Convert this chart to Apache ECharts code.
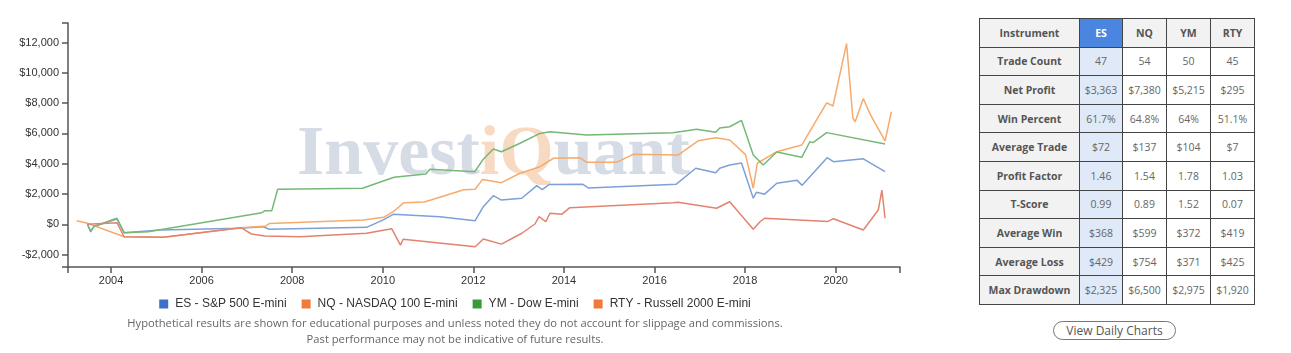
<!DOCTYPE html>
<html>
<head>
<meta charset="utf-8">
<script src="https://cdn.jsdelivr.net/npm/echarts@6/dist/echarts.min.js"></script>
<style>
  html, body { margin: 0; padding: 0; background: #fff; }
  #wrap { position: relative; width: 1291px; height: 353px; overflow: hidden; }
  #chart { position: absolute; left: 0; top: 0; width: 910px; height: 353px; }
  #tbl { position: absolute; left: 979px; top: 18px; border-collapse: collapse; font-family: "Open Sans", sans-serif; font-size: 10.5px; color: #666; border: 1px solid #aaa; }
  #tbl td { border: 1.3px solid #444; height: 27.6px; padding: 0; text-align: center; white-space: nowrap; }
  #tbl td.lab { background: #f2f2f2; font-weight: bold; color: #555; width: 99px; }
  #tbl tr.hdr td { background: #f2f2f2; font-weight: bold; color: #555; }
  #tbl td.es { background: #dfe9f8; width: 42px; }
  #tbl tr.hdr td.es { background: #4a86df; color: #fff; }
  #tbl td.c { width: 43px; }
  #btn { position: absolute; left: 1053px; top: 321px; width: 121px; height: 17px; border: 1.5px solid #777; border-radius: 10px; font-family: "Open Sans", sans-serif; font-size: 12px; color: #555; text-align: center; line-height: 17px; }
</style>
</head>
<body>
<div id="wrap">
  <div id="chart"></div>
  <table id="tbl"></table>
  <div id="btn">View Daily Charts</div>
</div>
<script>
// ---- data ----
const seriesNames = ['ES - S&P 500 E-mini', 'NQ - NASDAQ 100 E-mini', 'YM - Dow E-mini', 'RTY - Russell 2000 E-mini'];
const yTicks = [-2000, 0, 2000, 4000, 6000, 8000, 10000, 12000];
const xTicks = [2004, 2006, 2008, 2010, 2012, 2014, 2016, 2018, 2020];

const esData = [[2003.48,0],[2003.55,-500],[2003.62,-150],[2004.13,350],[2004.29,-550],[2005.08,-380],[2006.85,-260],[2007.36,-160],[2007.5,-330],[2009.64,-200],[2010.0,280],[2010.23,660],[2011.26,500],[2012.04,240],[2012.22,1160],[2012.44,1890],[2012.62,1600],[2013.07,1720],[2013.4,2550],[2013.52,2290],[2013.67,2620],[2014.41,2650],[2014.54,2400],[2016.48,2650],[2016.91,3700],[2017.35,3400],[2017.44,3700],[2017.66,3910],[2017.92,4050],[2018.18,1720],[2018.25,2110],[2018.43,1990],[2018.7,2710],[2019.15,2900],[2019.26,2570],[2019.81,4400],[2019.95,4130],[2020.61,4320],[2021.09,3470]];
const nqData = [[2003.24,240],[2003.48,70],[2004.29,-820],[2005.17,-860],[2006.87,-230],[2007.42,-110],[2007.5,60],[2009.57,280],[2010.02,460],[2010.23,830],[2010.47,1430],[2010.92,1470],[2011.79,2280],[2012.04,2310],[2012.2,2950],[2012.62,2750],[2013.03,3370],[2013.47,3800],[2013.77,4360],[2014.35,4400],[2014.5,4090],[2015.16,4090],[2015.53,4620],[2016.52,4570],[2016.97,5520],[2017.35,5720],[2017.66,5560],[2018.01,4600],[2018.18,2380],[2018.27,4030],[2018.7,4790],[2019.25,5230],[2019.8,8010],[2019.94,7810],[2020.24,11930],[2020.38,7000],[2020.43,6770],[2020.61,8300],[2020.76,7270],[2021.09,5500],[2021.23,7430]];
const ymData = [[2003.48,0],[2003.55,-450],[2003.62,-150],[2004.13,400],[2004.29,-550],[2004.82,-490],[2007.33,770],[2007.4,900],[2007.55,900],[2007.68,2310],[2009.55,2380],[2010.25,3100],[2010.95,3320],[2011.04,3630],[2012.03,3470],[2012.22,4300],[2012.44,4970],[2012.62,4790],[2013.03,5350],[2013.47,6000],[2013.69,6110],[2014.5,5890],[2016.41,6050],[2016.93,6270],[2017.35,6080],[2017.44,6360],[2017.66,6440],[2017.92,6860],[2018.18,4570],[2018.4,3910],[2018.7,4770],[2019.25,4420],[2019.43,5450],[2019.5,5390],[2019.8,6050],[2021.09,5300]];
const rtyData = [[2003.48,0],[2004.13,110],[2004.29,-820],[2005.15,-860],[2006.87,-220],[2007.1,-640],[2007.4,-770],[2008.17,-820],[2009.64,-590],[2010.2,-300],[2010.39,-1370],[2010.45,-990],[2012.04,-1480],[2012.22,-970],[2012.62,-1310],[2013.07,-590],[2013.36,20],[2013.45,500],[2013.6,170],[2013.69,730],[2013.95,660],[2014.13,1100],[2016.41,1430],[2016.52,1450],[2017.37,1060],[2017.66,1490],[2018.18,-320],[2018.33,170],[2018.43,400],[2019.83,190],[2019.95,370],[2020.61,-380],[2020.94,940],[2021.02,2260],[2021.09,400]];

const tableHeader = ['Instrument', 'ES', 'NQ', 'YM', 'RTY'];
const tableRows = [
  ['Trade Count', '47', '54', '50', '45'],
  ['Net Profit', '$3,363', '$7,380', '$5,215', '$295'],
  ['Win Percent', '61.7%', '64.8%', '64%', '51.1%'],
  ['Average Trade', '$72', '$137', '$104', '$7'],
  ['Profit Factor', '1.46', '1.54', '1.78', '1.03'],
  ['T-Score', '0.99', '0.89', '1.52', '0.07'],
  ['Average Win', '$368', '$599', '$372', '$419'],
  ['Average Loss', '$429', '$754', '$371', '$425'],
  ['Max Drawdown', '$2,325', '$6,500', '$2,975', '$1,920']
];
const footnote = ['Hypothetical results are shown for educational purposes and unless noted they do not account for slippage and commissions.',
                  'Past performance may not be indicative of future results.'];

// ---- table ----
(function () {
  const t = document.getElementById('tbl');
  let html = '<tr class="hdr">' + tableHeader.map((h, i) =>
    '<td class="' + (i === 0 ? 'lab' : (i === 1 ? 'es' : 'c')) + '">' + h + '</td>').join('') + '</tr>';
  tableRows.forEach(r => {
    html += '<tr>' + r.map((v, i) =>
      '<td class="' + (i === 0 ? 'lab' : (i === 1 ? 'es' : 'c')) + '">' + v + '</td>').join('') + '</tr>';
  });
  t.innerHTML = html;
})();

// ---- chart ----
const yMin = -2818, yMax = 13286, xMin = 2003.05, xMax = 2021.42;
const lineColors = ['#7da0da', '#f6ab6c', '#76b876', '#e3836f'];
const legendColors = ['#3f70c6', '#f07a3c', '#3a9a3a', '#f07a3c'];
const datas = [esData, nqData, ymData, rtyData];

const chart = echarts.init(document.getElementById('chart'), null, { renderer: 'canvas' });
const axisFont = { fontFamily: 'Liberation Sans, Arial, sans-serif', fontSize: 11, color: '#333' };
chart.setOption({
  animation: false,
  grid: { left: 68, right: 10, top: 23, bottom: 86, containLabel: false },
  legend: {
    top: 293, left: 'center',
    icon: 'rect', itemWidth: 9, itemHeight: 9, itemGap: 15,
    textStyle: { fontFamily: 'Liberation Sans, Arial, sans-serif', fontSize: 12, color: '#333', padding: [0, 0, 0, 2] },
    data: seriesNames.map((n, i) => ({ name: n, itemStyle: { color: legendColors[i] } }))
  },
  xAxis: {
    type: 'value', min: xMin, max: xMax,
    axisLine: { show: true, onZero: false, lineStyle: { color: '#555', width: 1.5 } },
    axisTick: { show: true, length: 6, customValues: [xMin].concat(xTicks, [xMax]), lineStyle: { color: '#555', width: 1.5 } },
    axisLabel: Object.assign({ customValues: xTicks, margin: 8, formatter: v => String(Math.round(v)) }, axisFont),
    splitLine: { show: false }
  },
  yAxis: {
    type: 'value', min: yMin, max: yMax,
    axisLine: { show: true, lineStyle: { color: '#555', width: 1.5 } },
    axisTick: { show: true, length: 6, customValues: [yMin].concat(yTicks, [yMax]), lineStyle: { color: '#555', width: 1.5 } },
    axisLabel: Object.assign({ customValues: yTicks, margin: 9, formatter: v => (v < 0 ? '-$' : '$') + Math.abs(v).toLocaleString('en-US') }, axisFont),
    splitLine: { show: false }
  },
  graphic: [
    {
      type: 'text', left: 297, top: 121, z: -10, silent: true,
      style: {
        text: '{g|Invest}{o|iQ}{g|uant}',
        rich: {
          g: { fontFamily: 'Liberation Serif, serif', fontWeight: 'bold', fontSize: 70, fill: '#d6dce6' },
          o: { fontFamily: 'Liberation Serif, serif', fontWeight: 'bold', fontSize: 70, fill: '#f8d9c2' }
        }
      }
    },
    {
      type: 'text', left: 'center', top: 318, silent: true,
      style: { text: footnote[0], fontFamily: 'Open Sans, sans-serif', fontSize: 11.2, fill: '#666' }
    },
    {
      type: 'text', left: 'center', top: 334, silent: true,
      style: { text: footnote[1], fontFamily: 'Open Sans, sans-serif', fontSize: 11.2, fill: '#666' }
    }
  ],
  series: datas.map((d, i) => ({
    name: seriesNames[i], type: 'line', data: d, showSymbol: false, symbol: 'none',
    itemStyle: { color: legendColors[i] },
    lineStyle: { color: lineColors[i], width: 1.5 },
    z: 2
  }))
});
</script>
</body>
</html>
